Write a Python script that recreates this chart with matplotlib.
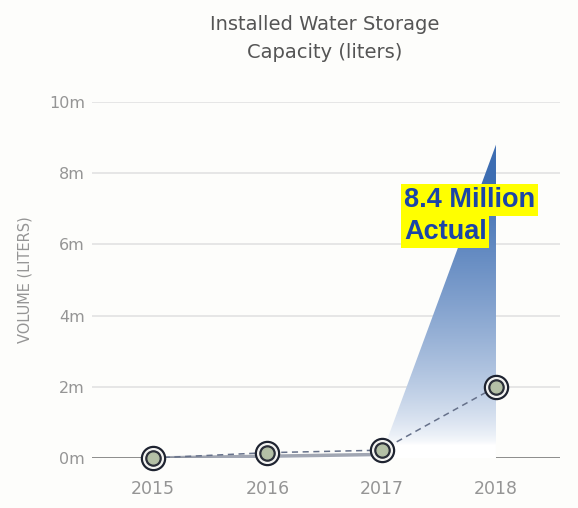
import numpy as np
import matplotlib.pyplot as plt
from matplotlib.patches import Polygon
from matplotlib.ticker import FuncFormatter

years = ['2015', '2016', '2017', '2018']
installed = [0.0, 0.15, 0.22, 2.0]      # millions of liters (dashed series)
actual = [0.0, 0.05, 0.1, 8.8]          # gradient area series
yticks = [0, 2, 4, 6, 8, 10]

fig = plt.figure(figsize=(5.78, 5.08), dpi=100)
fig.patch.set_facecolor('#fdfdfb')
ax = fig.add_axes([92/578, 50/508, 468/578, 356/508])
ax.set_facecolor('#fdfdfb')

x = np.arange(len(years))
ax.set_xlim(-0.534, 3.56)
ax.set_ylim(0, 10)

# grid
for t in yticks[1:]:
    ax.axhline(t, color='#e2e2e2', lw=1.2, zorder=0)
ax.axhline(0, color='#6b6b6b', lw=1.8, zorder=1)

# gradient area
verts = list(zip(x, actual)) + [(x[-1], 0), (x[0], 0)]
poly = Polygon(verts, closed=True, facecolor='none', edgecolor='none')
ax.add_patch(poly)
grad = np.linspace(0, 1, 256).reshape(-1, 1)
top = np.array([0.24, 0.43, 0.70])
bot = np.array([1.0, 1.0, 1.0])
w = np.clip((grad - 0.04) / 0.85, 0, 1) ** 0.7
img = bot * (1 - w) + top * w
img = img.reshape(256, 1, 3)
im = ax.imshow(img, extent=[x[0], x[-1], 0, max(actual)], origin='lower',
               aspect='auto', zorder=2)
im.set_clip_path(poly)
ax.plot(x[:3], actual[:3], color='#7a8294', lw=2.5, zorder=3, alpha=0.7)

# dashed installed line
ax.plot(x, installed, color='#66718a', lw=1.1, ls=(0, (4, 3)), zorder=4)

# ring markers
ax.scatter(x, installed, s=300, color='#1e2330', zorder=5, clip_on=False)
ax.scatter(x, installed, s=200, color='#f4f4f2', zorder=6, clip_on=False)
ax.scatter(x, installed, s=120, color='#2a2e38', zorder=7, clip_on=False)
ax.scatter(x, installed, s=60, color='#b4c0a6', zorder=8, clip_on=False)

ax.set_xticks(x)
ax.set_xticklabels(years)
ax.set_yticks(yticks)
ax.yaxis.set_major_formatter(FuncFormatter(lambda v, p: f'{int(v)}m'))
ax.tick_params(axis='y', length=0, colors='#959595', labelsize=11.5, pad=5)
ax.tick_params(axis='x', length=0, colors='#959595', labelsize=12.5, pad=16)
for s in ax.spines.values():
    s.set_visible(False)

ax.set_ylabel('VOLUME (LITERS)', color='#959595', fontsize=10.5, labelpad=12)

fig.text(325/578, 1 - 25/508, 'Installed Water Storage', ha='center', va='center',
         fontsize=14, color='#555555')
fig.text(325/578, 1 - 52/508, 'Capacity (liters)', ha='center', va='center',
         fontsize=14, color='#555555')

bb = dict(facecolor='#ffff00', edgecolor='none', pad=2)
fig.text(404/578, 1 - 200/508, '8.4 Million', ha='left', va='center',
         fontsize=19.5, fontweight='bold', color='#1b45a8', family='Liberation Sans', bbox=bb)
fig.text(404/578, 1 - 232/508, 'Actual', ha='left', va='center',
         fontsize=19.5, fontweight='bold', color='#1b45a8', family='Liberation Sans', bbox=bb)

fig.savefig('out.png', dpi=100, facecolor=fig.get_facecolor())
